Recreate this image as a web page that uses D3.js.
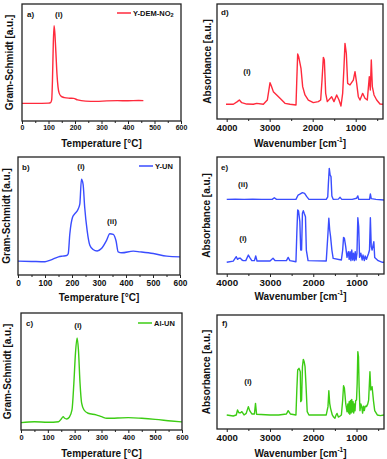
<!DOCTYPE html>
<html>
<head>
<meta charset="utf-8">
<script src="https://cdn.jsdelivr.net/npm/d3@7"></script>
<style>
  body { margin: 0; background: #fff; }
  text { font-family: "Liberation Sans", Arial, sans-serif; font-weight: bold; fill: #111; }
</style>
</head>
<body>
<svg id="fig" width="387" height="459"></svg>
<script>
// TGA-FTIR: Gram-Schmidt curves (left) and FTIR spectra (right)

// --- data: [temperature °C, signal a.u.] ---
const tgaYDemNO2 = [[0,15.1],[50,15.1],[100,15.3],[108,15.8],[112,18],[115,35],[118,65],[121,81.5],[124,75],[128,58],
  [132,40],[136,29],[140,24],[148,21],[160,20],[180,19.5],[195,19.3],[210,18],[240,17],[280,16.8],
  [320,17.2],[360,17.4],[400,17.3],[440,17.5],[458,17.4]];
const tgaYUN = [[0,11.8],[50,11.5],[100,11.2],[120,12.6],[150,15.4],[165,16],[180,16.5],[186,18],[192,35],[202,49],
  [210,51.8],[223,56],[229,60.2],[235,81.2],[241,77],[247,57.4],[256,37.8],[266,25.2],[278,21.6],[293,20.4],
  [309,22.4],[328,29.4],[340,35],[353,34.5],[363,29],[371,19.6],[384,18.8],[427,20.2],[452,19.6],[501,18.2],
  [551,16],[600,15.4]];
const tgaAlUN = [[0,6.3],[50,7.1],[100,6.6],[140,7.1],[150,9.4],[157,11.4],[163,10],[170,9.4],[180,10.9],[190,17.1],
  [197,40],[203,65.7],[209,78.6],[214,68.6],[220,40],[226,22.9],[235,17.1],[250,14.3],[280,12.9],[300,11.4],
  [320,10],[400,10.6],[450,10],[500,9.1],[560,7.7],[600,6.9]];

// --- data: [wavenumber cm-1, absorbance a.u.] ---
const ftirD = [[4015,12.8],[3845,12.8],[3752,15.1],[3705,16.5],[3650,14.2],[3535,13],[3380,12.8],[3302,13.6],[3147,12.8],[3055,16.5],
  [2992,31.6],[2961,28.7],[2915,23.8],[2837,20.9],[2760,18],[2644,13.6],[2527,12.8],[2388,12.2],[2372,31],[2349,56.5],
  [2326,54.2],[2295,48.4],[2272,44.1],[2233,28.1],[2179,20.9],[2101,16.5],[1985,14.2],[1869,15.1],[1814,16.5],[1783,33.9],
  [1752,53.6],[1729,51.3],[1698,22.3],[1660,15.1],[1559,19.4],[1505,15.1],[1442,20.9],[1388,16.5],[1342,11.3],[1303,22.3],
  [1272,45.5],[1249,65.8],[1218,57.1],[1187,31],[1132,29.6],[1055,33.9],[1016,41.2],[977,31],[939,19.4],[900,16.5],
  [838,22.3],[784,18],[730,16.5],[683,36.8],[660,25.2],[637,51.3],[613,28.1],[574,20.9],[512,16.5],[435,13],[365,12.8]];
const ftirE2 = [[4000,63.8],[3800,64],[3600,63.8],[3400,64],[3200,63.8],[2950,63.8],[2900,65.2],[2850,63.8],[2600,63.8],[2400,63.8],
  [2350,67.5],[2300,68.4],[2250,69.5],[2200,68.9],[2150,66.1],[2100,63.8],[1900,63.8],[1700,63.8],[1665,66],[1650,77.5],
  [1630,90.3],[1610,84.6],[1590,83.2],[1570,66.7],[1540,63.8],[1420,64],[1380,65.5],[1340,63.8],[1100,63.8],[1000,64.7],
  [970,66.7],[950,63.8],[930,63.8],[700,63.8],[680,68.4],[660,64.4],[550,63.8],[365,63.2]];
const ftirE1 = [[4000,10],[3850,11],[3780,14.8],[3750,12.5],[3720,13.4],[3680,13.4],[3650,12],[3620,11.4],[3560,11.4],[3500,16.2],
  [3470,14.2],[3420,11.4],[3360,11.4],[3330,15.4],[3300,11.1],[3000,11.1],[2930,13.4],[2880,11.4],[2620,11.4],[2580,14.2],
  [2540,11.4],[2400,10.5],[2380,34.8],[2360,54.7],[2340,53.8],[2310,44.7],[2290,20.5],[2270,20.5],[2250,51.9],[2230,54.1],
  [2210,51.9],[2180,49],[2160,20.5],[2120,11.4],[1700,11.1],[1660,34.8],[1640,47.6],[1620,37.6],[1600,31.9],[1570,20.5],
  [1540,13.4],[1350,12],[1320,20.5],[1300,31.3],[1280,30.5],[1250,23.4],[1220,14.2],[1190,19.1],[1170,12.5],[1150,19.1],
  [1130,11.4],[1110,20.5],[1090,12],[1070,17.7],[1050,11.4],[1030,19.1],[1010,12],[990,17.7],[970,48.1],[950,40.5],
  [930,14.2],[900,17.7],[870,12],[850,16.2],[820,11.4],[800,15.4],[770,12.5],[750,14.8],[720,17.7],[700,20.5],
  [680,48.1],[660,23.4],[640,20.5],[600,27.6],[580,14.2],[500,11.4],[400,10],[365,10]];
const ftirF = [[4000,12.3],[3850,11.4],[3780,12.3],[3750,16.7],[3720,14.3],[3680,14.3],[3650,15.2],[3600,12.3],[3550,13.7],[3500,19.6],
  [3470,16.1],[3420,13.2],[3360,13.2],[3335,22.5],[3310,12.9],[3000,12.3],[2800,12.3],[2620,13.2],[2580,16.1],[2530,13.2],
  [2400,12.3],[2380,34.2],[2360,51.8],[2330,53.2],[2300,50.3],[2290,24],[2270,25.4],[2250,54.7],[2230,61.1],[2210,59.1],
  [2190,54.7],[2170,40.1],[2140,15.2],[2100,12.3],[1700,12.3],[1660,19.6],[1640,33.6],[1620,22.5],[1600,18.1],[1560,12.3],
  [1530,10.5],[1500,9.4],[1470,12.5],[1450,13.7],[1420,10.5],[1400,10.8],[1350,12.3],[1320,25.4],[1300,38],[1280,35.7],
  [1250,22.5],[1220,15.2],[1200,22],[1185,14],[1170,24],[1155,13],[1140,25],[1125,14],[1110,26],[1095,15],
  [1080,24],[1065,14],[1050,22],[1035,16],[1020,25],[1000,25.4],[985,40],[970,67.8],[955,63.5],[940,37.1],
  [920,16.1],[900,22],[880,19.6],[860,14],[840,20],[820,16.1],[800,20],[770,19.6],[740,22],[720,25.4],
  [690,50.3],[670,34.2],[640,37.1],[610,25.4],[580,16.1],[520,12.3],[450,11.7],[365,12.3]];

const tempTicks = [0, 100, 200, 300, 400, 500, 600];
const tempMinor = [50, 150, 250, 350, 450, 550];
const waveTicks = [4000, 3000, 2000, 1000];
const waveMinor = [3500, 2500, 1500, 500];

const RED = "#ff2a3c", BLUE = "#3a4dff", GREEN = "#3ccc14";

const svg = d3.select("#fig");

function drawPanel(cfg) {
    const b = cfg.box;
    const g = svg.append("g");
    const x = d3.scaleLinear().domain(cfg.xDomain).range([b.x0, b.x1]);
    const y = d3.scaleLinear().domain([0, 100]).range([b.y1, b.y0]);

    const clipId = "clip-" + cfg.id;
    g.append("clipPath").attr("id", clipId)
        .append("rect").attr("x", b.x0).attr("y", b.y0)
        .attr("width", b.x1 - b.x0).attr("height", b.y1 - b.y0);

    // minor ticks
    g.append("g")
        .attr("transform", `translate(0,${b.y1})`)
        .call(d3.axisBottom(x).tickValues(cfg.minor).tickSize(2).tickFormat(""))
        .call(s => s.select(".domain").remove())
        .call(s => s.selectAll("line").attr("stroke", "#222").attr("stroke-width", 1));

    // major ticks + labels
    g.append("g")
        .attr("transform", `translate(0,${b.y1})`)
        .call(d3.axisBottom(x).tickValues(cfg.ticks).tickSize(3).tickPadding(cfg.tickPad)
            .tickFormat(d3.format("d")))
        .call(s => s.select(".domain").remove())
        .call(s => s.selectAll("line").attr("stroke", "#222").attr("stroke-width", 1))
        .call(s => s.selectAll("text")
            .style("font-family", '"Liberation Sans", Arial, sans-serif')
            .style("font-weight", "bold")
            .style("font-size", cfg.tickFont + "px")
            .attr("fill", "#111"));

    // curves
    const line = d3.line()
        .x(d => x(d[0])).y(d => y(d[1]))
        .curve(cfg.smooth ? d3.curveMonotoneX : d3.curveLinear);
    cfg.series.forEach(s => {
        g.append("path")
            .datum(s.data)
            .attr("clip-path", `url(#${clipId})`)
            .attr("fill", "none")
            .attr("stroke", s.color)
            .attr("stroke-width", 1.4)
            .attr("stroke-linejoin", "round")
            .attr("d", line);
    });

    // frame
    g.append("rect")
        .attr("x", b.x0).attr("y", b.y0)
        .attr("width", b.x1 - b.x0).attr("height", b.y1 - b.y0)
        .attr("fill", "none").attr("stroke", "#222").attr("stroke-width", 1.3);

    // axis titles
    const xt = g.append("text")
        .attr("x", (b.x0 + b.x1) / 2).attr("y", cfg.xTitleY)
        .attr("text-anchor", "middle").attr("dominant-baseline", "central")
        .style("font-size", "10px");
    if (cfg.wave) {
        xt.append("tspan").text("Wavenumber [cm");
        xt.append("tspan").text("-1").attr("dy", -4).style("font-size", "6.5px");
        xt.append("tspan").text("]").attr("dy", 4);
    } else {
        xt.text("Temperature [°C]");
    }
    g.append("text")
        .attr("transform", `translate(${cfg.yTitleX},${(b.y0 + b.y1) / 2}) rotate(-90)`)
        .attr("text-anchor", "middle").attr("dominant-baseline", "central")
        .style("font-size", "10px")
        .text(cfg.yTitle);

    // panel letter and peak labels
    cfg.labels.forEach(l => {
        g.append("text")
            .attr("x", l.x).attr("y", l.y)
            .attr("dominant-baseline", "central")
            .attr("text-anchor", l.anchor || "start")
            .style("font-size", "8px")
            .text(l.text);
    });

    // legend
    if (cfg.legend) {
        const L = cfg.legend;
        g.append("line")
            .attr("x1", L.x).attr("x2", L.x + 14)
            .attr("y1", L.y).attr("y2", L.y)
            .attr("stroke", L.color).attr("stroke-width", 1.5);
        const t = g.append("text")
            .attr("x", L.x + 16).attr("y", L.y)
            .attr("dominant-baseline", "central")
            .style("font-size", "7.5px");
        t.append("tspan").text(L.text);
        if (L.sub) t.append("tspan").text(L.sub).attr("dy", 2).style("font-size", "5.5px");
    }
}

drawPanel({
    id: "a", box: { x0: 22, x1: 181, y0: 4, y1: 121 },
    xDomain: [0, 600], ticks: tempTicks, minor: tempMinor, tickFont: 7, tickPad: 1.5,
    xTitleY: 143, yTitleX: 9, yTitle: "Gram-Schmidt [a.u.]", smooth: true,
    series: [{ data: tgaYDemNO2, color: RED }],
    labels: [{ text: "a)", x: 27, y: 14 }, { text: "(i)", x: 55, y: 14 }],
    legend: { x: 117, y: 13, color: RED, text: "Y-DEM-NO", sub: "2" }
});

drawPanel({
    id: "b", box: { x0: 18, x1: 180, y0: 157, y1: 275 },
    xDomain: [0, 600], ticks: tempTicks, minor: tempMinor, tickFont: 8.3, tickPad: 2,
    xTitleY: 297, yTitleX: 6, yTitle: "Gram-Schmidt [a.u.]", smooth: true,
    series: [{ data: tgaYUN, color: BLUE }],
    labels: [{ text: "b)", x: 22, y: 167 }, { text: "(i)", x: 81, y: 166, anchor: "middle" },
             { text: "(ii)", x: 112, y: 221, anchor: "middle" }],
    legend: { x: 139, y: 166, color: BLUE, text: "Y-UN" }
});

drawPanel({
    id: "c", box: { x0: 21, x1: 182, y0: 313, y1: 430 },
    xDomain: [0, 600], ticks: tempTicks, minor: tempMinor, tickFont: 7.4, tickPad: 2,
    xTitleY: 453, yTitleX: 7.5, yTitle: "Gram-Schmidt [a.u.]", smooth: true,
    series: [{ data: tgaAlUN, color: GREEN }],
    labels: [{ text: "c)", x: 26, y: 323 }, { text: "(i)", x: 78, y: 325, anchor: "middle" }],
    legend: { x: 138, y: 323, color: GREEN, text: "Al-UN" }
});

drawPanel({
    id: "d", box: { x0: 217, x1: 383, y0: 4, y1: 119 },
    xDomain: [4225, 365], ticks: waveTicks, minor: waveMinor, tickFont: 9.3, tickPad: 2.5,
    xTitleY: 143, yTitleX: 207, yTitle: "Absorbance [a.u.]", wave: true,
    series: [{ data: ftirD, color: RED }],
    labels: [{ text: "d)", x: 221, y: 12 }, { text: "(i)", x: 247, y: 71, anchor: "middle" }]
});

drawPanel({
    id: "e", box: { x0: 217, x1: 384, y0: 157, y1: 274 },
    xDomain: [4225, 365], ticks: waveTicks, minor: waveMinor, tickFont: 9.8, tickPad: 2.5,
    xTitleY: 296, yTitleX: 206, yTitle: "Absorbance [a.u.]", wave: true,
    series: [{ data: ftirE2, color: BLUE }, { data: ftirE1, color: BLUE }],
    labels: [{ text: "e)", x: 221, y: 167 }, { text: "(ii)", x: 243, y: 184, anchor: "middle" },
             { text: "(i)", x: 243, y: 238, anchor: "middle" }]
});

drawPanel({
    id: "f", box: { x0: 217, x1: 384, y0: 315, y1: 429 },
    xDomain: [4225, 365], ticks: waveTicks, minor: waveMinor, tickFont: 9.6, tickPad: 2.5,
    xTitleY: 453, yTitleX: 206, yTitle: "Absorbance [a.u.]", wave: true,
    series: [{ data: ftirF, color: GREEN }],
    labels: [{ text: "f)", x: 222, y: 323 }, { text: "(i)", x: 248, y: 381, anchor: "middle" }]
});
</script>
</body>
</html>
